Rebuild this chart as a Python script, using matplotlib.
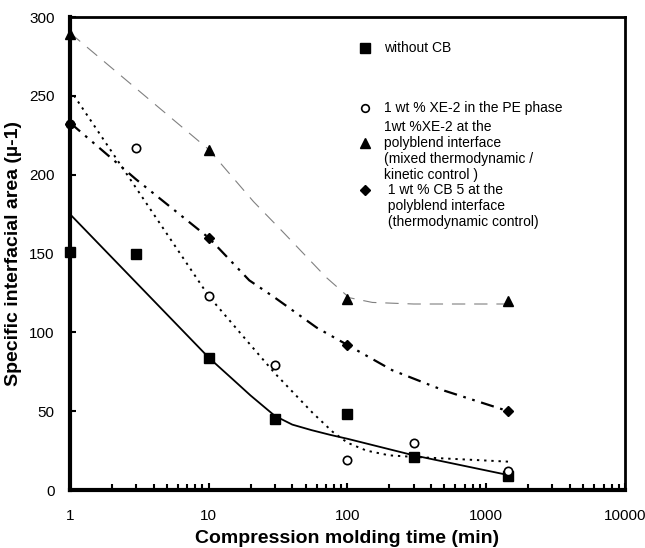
import matplotlib
matplotlib.use("Agg")
import matplotlib.pyplot as plt
import numpy as np

plt.rcParams["font.family"] = ["Liberation Sans", "DejaVu Sans"]

# measured points
t_sq = [1, 3, 10, 30, 100, 300, 1440]
y_sq = [151, 150, 84, 45, 48, 21, 9]
t_ci = [1, 3, 10, 30, 100, 300, 1440]
y_ci = [232, 217, 123, 79, 19, 30, 12]
t_tr = [1, 10, 100, 1440]
y_tr = [289, 216, 121, 120]
t_di = [1, 10, 100, 1440]
y_di = [232, 160, 92, 50]

# trend curves
fit_sq_t = [1, 10, 15, 20, 30, 40, 55, 75, 100, 300, 1440]
fit_sq_y = [175, 84, 70, 60, 47, 41.5, 38, 35, 32.5, 22, 9.5]
fit_ci_t = [1, 10, 20, 30, 56, 78, 100, 137, 200, 300, 1440]
fit_ci_y = [254, 123, 92, 74, 49, 37, 30, 25, 22, 21, 18]
fit_tr_t = [1, 10, 21, 34, 70, 103, 151, 300, 1440]
fit_tr_y = [290, 216, 183, 164, 135, 122, 119, 118, 118]
fit_di_t = [1, 3, 10, 19.6, 30, 60, 100, 210, 500, 1440]
fit_di_y = [233, 197, 160, 133, 122, 103, 92, 76, 63, 50]

fig = plt.figure(figsize=(6.45, 5.48), dpi=100)
ax = fig.add_axes([0.1085, 0.1058, 0.8605, 0.863])

ax.plot(fit_sq_t, fit_sq_y, color="black", lw=1.3)
ax.plot(fit_ci_t, fit_ci_y, color="black", lw=1.4, linestyle=(0, (1.2, 2.5)))
ax.plot(fit_tr_t, fit_tr_y, color="gray", lw=0.8, linestyle=(0, (12, 8)))
ax.plot(fit_di_t, fit_di_y, color="black", lw=1.6, linestyle=(0, (6, 3, 1.2, 3, 1.2, 3)))

ax.plot(t_sq, y_sq, "s", color="black", ms=7.5, ls="none", clip_on=False, zorder=5)
ax.plot(t_ci, y_ci, "o", mfc="white", mec="black", mew=1.2, ms=6, ls="none", clip_on=False, zorder=5)
ax.plot(t_tr, y_tr, "^", color="black", ms=7.5, ls="none", clip_on=False, zorder=5)
ax.plot(t_di, y_di, "D", color="black", ms=5.5, ls="none", clip_on=False, zorder=5)

ax.set_xscale("log")
ax.set_xlim(1, 10000)
ax.set_ylim(0, 300)
ax.set_yticks([0, 50, 100, 150, 200, 250, 300])
ax.set_xticks([1, 10, 100, 1000, 10000])
ax.set_xticklabels(["1", "10", "100", "1000", "10000"])
ax.tick_params(axis="x", which="major", direction="in", length=5, width=1.5, pad=14, labelsize=11)
ax.tick_params(axis="x", which="minor", direction="in", length=4, width=1.5)
ax.tick_params(axis="y", direction="in", length=4, width=1.5, labelsize=11, pad=11)

for s in ["left", "bottom"]:
    ax.spines[s].set_linewidth(3)
for s in ["top", "right"]:
    ax.spines[s].set_linewidth(2)

ax.set_xlabel("Compression molding time (min)", fontsize=14, fontweight="bold", labelpad=5)
ax.set_ylabel("Specific interfacial area (\u00b5-1)", fontsize=14, fontweight="bold", labelpad=5)

# legend drawn as text in figure pixel positions
lx, tx = 365, 384
legend_items = [
    ("s", dict(color="black", ms=7), 48, ["without CB"]),
    ("o", dict(mfc="white", mec="black", mew=1.2, ms=5.5), 108, ["1 wt % XE-2 in the PE phase"]),
    ("^", dict(color="black", ms=7), 143, ["1wt %XE-2 at the", "polyblend interface",
                                           "(mixed thermodynamic /", "kinetic control )"]),
    ("D", dict(color="black", ms=5), 190, [" 1 wt % CB 5 at the", " polyblend interface",
                                           " (thermodynamic control)"]),
]
H = 548
for mk, kw, ymk, lines in legend_items:
    fig.lines.append(plt.Line2D([lx / 645], [1 - ymk / H], marker=mk, ls="none",
                                transform=fig.transFigure, **kw))
    n = len(lines)
    if n == 1:
        ys = [ymk]
    elif n == 4:
        ys = [127, 143, 159, 175]
    else:
        ys = [190, 206, 222]
    for ln, yy in zip(lines, ys):
        fig.text(tx / 645, 1 - yy / H, ln, fontsize=10, va="center", ha="left")

fig.savefig("out.png", dpi=100)
